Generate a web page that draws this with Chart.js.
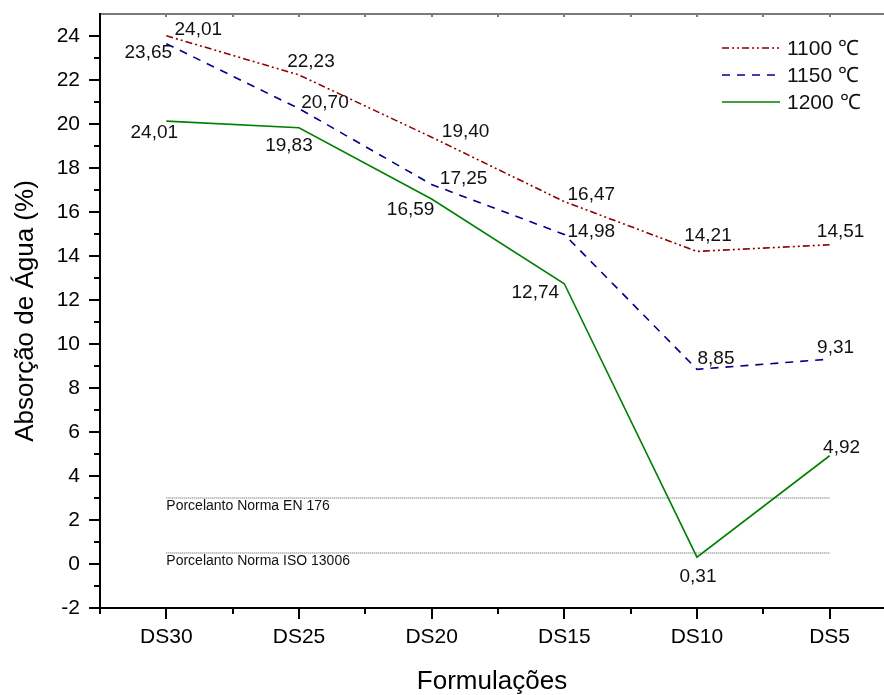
<!DOCTYPE html>
<html lang="pt">
<head>
<meta charset="UTF-8">
<title>Absorção de Água</title>
<script src="https://cdn.jsdelivr.net/npm/chart.js@4.4.0/dist/chart.umd.min.js"></script>
<style>
  html, body { margin: 0; padding: 0; background: #fff; }
  #wrap { width: 884px; height: 695px; position: relative; }
</style>
</head>
<body>
<div id="wrap"><canvas id="chart"></canvas></div>
<script>
// data
const categories = ['DS30', 'DS25', 'DS20', 'DS15', 'DS10', 'DS5'];
const series1100 = [24.01, 22.23, 19.40, 16.47, 14.21, 14.51];
const series1150 = [23.65, 20.70, 17.25, 14.98, 8.85, 9.31];
const series1200 = [20.13, 19.83, 16.59, 12.74, 0.31, 4.92];
const labels1100 = ['24,01', '22,23', '19,40', '16,47', '14,21', '14,51'];
const labels1150 = ['23,65', '20,70', '17,25', '14,98', '8,85', '9,31'];
const labels1200 = ['24,01', '19,83', '16,59', '12,74', '0,31', '4,92'];
const seriesNames = ['1100 \u2103', '1150 \u2103', '1200 \u2103'];
const normValues = [3, 0.5];
const normNames = ['Porcelanto Norma EN 176', 'Porcelanto Norma ISO 13006'];
const yTicks = [-2, 0, 2, 4, 6, 8, 10, 12, 14, 16, 18, 20, 22, 24];

// label offsets from the point (px), same order as the series
const offsets = [
  [[32, -6], [12, -13], [34, -5], [27, -7], [11, -16], [11, -13]],
  [[-18, 9], [26, -6], [32, -6], [27, -3], [19, -11], [6, -11]],
  [[-12, 12], [-10, 18], [-21, 11], [-29, 9], [1, 20], [12, -8]]
];
const pointLabels = [labels1100, labels1150, labels1200];
const colors = ['#8b0000', '#00008b', '#008000'];
const dashes = [[7, 3, 2, 3, 2, 3], [8, 7], []];

const FONT = "'Liberation Sans', Arial, sans-serif";

function toPoints(arr) {
  return arr.map((v, i) => ({ x: i, y: v }));
}

const datasets = [series1100, series1150, series1200].map((s, k) => ({
  label: seriesNames[k],
  data: toPoints(s),
  borderColor: colors[k],
  borderDash: dashes[k],
  borderWidth: 1.6,
  pointRadius: 0,
  tension: 0,
  fill: false
}));

normValues.forEach(v => {
  datasets.push({
    label: 'norma',
    data: [{ x: 0, y: v }, { x: categories.length - 1, y: v }],
    borderColor: '#555',
    borderDash: [1, 1],
    borderWidth: 1,
    pointRadius: 0,
    fill: false
  });
});

const decor = {
  id: 'decor',
  afterDatasetsDraw(chart) {
    const { ctx, chartArea: a, scales: { x, y } } = chart;
    ctx.save();

    // top frame
    ctx.strokeStyle = '#7a7a7a';
    ctx.lineWidth = 2;
    ctx.beginPath();
    ctx.moveTo(a.left, a.top);
    ctx.lineTo(a.right, a.top);
    for (let v = -0.5; v <= x.max; v += 0.5) {
      const px = Math.round(x.getPixelForValue(v));
      ctx.moveTo(px, a.top);
      ctx.lineTo(px, a.top + 3);
    }
    ctx.stroke();

    // left + bottom axes
    ctx.strokeStyle = '#000';
    ctx.beginPath();
    ctx.moveTo(a.left, a.top - 1);
    ctx.lineTo(a.left, a.bottom);
    ctx.lineTo(a.right, a.bottom);
    for (let v = y.min; v <= 24; v++) {
      const py = Math.round(y.getPixelForValue(v));
      const len = v % 2 === 0 ? 11 : 6;
      ctx.moveTo(a.left - len, py);
      ctx.lineTo(a.left, py);
    }
    for (let v = -0.5; v <= x.max; v += 0.5) {
      const px = Math.round(x.getPixelForValue(v));
      const len = Number.isInteger(v) ? 11 : 6;
      ctx.moveTo(px, a.bottom);
      ctx.lineTo(px, a.bottom + len);
    }
    ctx.stroke();

    // norm labels
    ctx.fillStyle = '#111';
    ctx.font = '14px ' + FONT;
    ctx.textAlign = 'left';
    ctx.textBaseline = 'middle';
    normValues.forEach((v, i) => {
      ctx.fillText(normNames[i], x.getPixelForValue(0), y.getPixelForValue(v) + 8);
    });

    // point labels
    ctx.font = '19px ' + FONT;
    ctx.textAlign = 'center';
    pointLabels.forEach((labs, k) => {
      const meta = chart.getDatasetMeta(k);
      meta.data.forEach((pt, i) => {
        ctx.fillText(labs[i], pt.x + offsets[k][i][0], pt.y + offsets[k][i][1]);
      });
    });

    // legend
    ctx.font = '21px ' + FONT;
    ctx.textAlign = 'left';
    seriesNames.forEach((name, k) => {
      const ly = 48 + k * 27;
      ctx.strokeStyle = colors[k];
      ctx.lineWidth = 1.6;
      ctx.setLineDash(dashes[k]);
      ctx.beginPath();
      ctx.moveTo(722, ly);
      ctx.lineTo(780, ly);
      ctx.stroke();
      ctx.setLineDash([]);
      ctx.fillText(name, 787, ly + 1);
    });

    ctx.restore();
  }
};

new Chart(document.getElementById('chart'), {
  type: 'line',
  data: { datasets: datasets },
  plugins: [decor],
  options: {
    responsive: true,
    maintainAspectRatio: false,
    animation: false,
    layout: { padding: { top: 14, right: 0, left: 0, bottom: 0 } },
    plugins: {
      legend: { display: false },
      tooltip: { enabled: false }
    },
    scales: {
      x: {
        type: 'linear',
        min: -0.5,
        max: 5.41,
        afterFit: s => {
          s.height = 87;
          s.paddingLeft = 0;
          s.paddingRight = 0;
        },
        afterBuildTicks: s => { s.ticks = categories.map((c, i) => ({ value: i })); },
        grid: { display: false, drawTicks: false },
        border: { display: false },
        ticks: {
          padding: 17,
          color: '#000',
          font: { family: FONT, size: 21 },
          maxRotation: 0,
          autoSkip: false,
          callback: v => categories[v]
        },
        title: {
          display: true,
          text: 'Formulações',
          color: '#000',
          font: { family: FONT, size: 26, lineHeight: 1 },
          padding: { top: 0, bottom: 0 }
        }
      },
      y: {
        min: -2,
        max: 25,
        afterFit: s => {
          s.width = 100;
          s.paddingTop = 0;
          s.paddingBottom = 0;
        },
        afterBuildTicks: s => { s.ticks = yTicks.map(v => ({ value: v })); },
        grid: { display: false, drawTicks: false },
        border: { display: false },
        ticks: {
          padding: 20,
          color: '#000',
          font: { family: FONT, size: 21 }
        },
        title: {
          display: true,
          text: 'Absorção de Água (%)',
          color: '#000',
          font: { family: FONT, size: 26, lineHeight: 1 },
          padding: { top: 13, bottom: 0 }
        }
      }
    }
  }
});
</script>
</body>
</html>
